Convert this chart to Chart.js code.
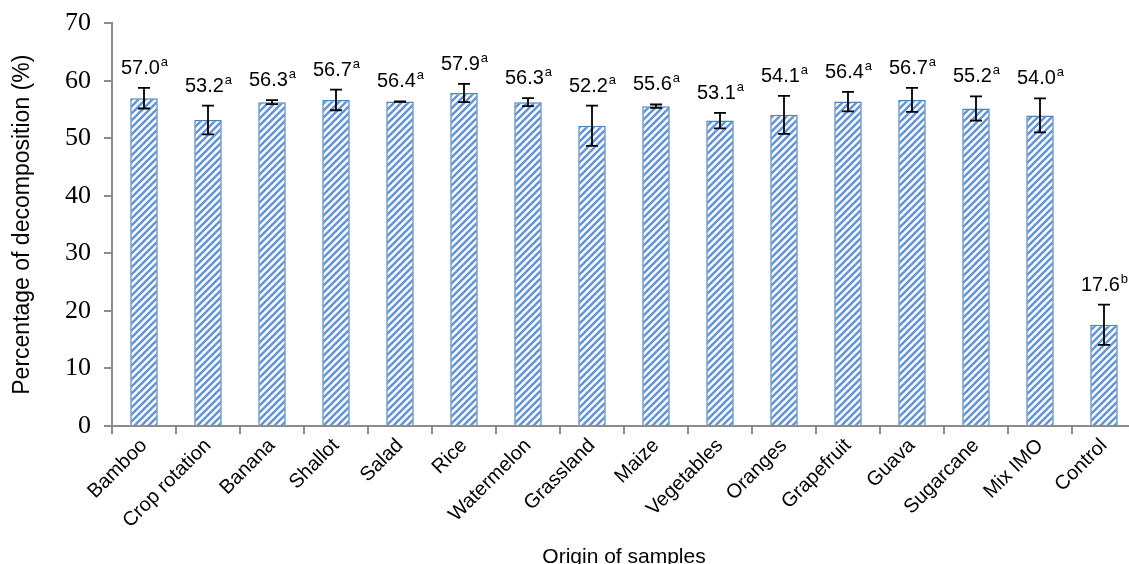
<!DOCTYPE html>
<html>
<head>
<meta charset="utf-8">
<script src="https://cdn.jsdelivr.net/npm/chart.js@4"></script>
<style>
  html, body { margin: 0; padding: 0; background: #fff; overflow: hidden; }
  #wrap { width: 1136px; height: 564px; }
</style>
</head>
<body>
<div id="wrap"><canvas id="decompChart" width="1136" height="564"></canvas></div>
<script>
const samples = ['Bamboo', 'Crop rotation', 'Banana', 'Shallot', 'Salad', 'Rice', 'Watermelon', 'Grassland',
    'Maize', 'Vegetables', 'Oranges', 'Grapefruit', 'Guava', 'Sugarcane', 'Mix IMO', 'Control'];
const decomposition = [57.0, 53.2, 56.3, 56.7, 56.4, 57.9, 56.3, 52.2, 55.6, 53.1, 54.1, 56.4, 56.7, 55.2, 54.0, 17.6];
const errors = [1.8, 2.5, 0.35, 1.8, 0.05, 1.6, 0.7, 3.5, 0.3, 1.35, 3.3, 1.7, 2.1, 2.1, 2.95, 3.5];
const letters = ['a', 'a', 'a', 'a', 'a', 'a', 'a', 'a', 'a', 'a', 'a', 'a', 'a', 'a', 'a', 'b'];
const yTicks = [0, 10, 20, 30, 40, 50, 60, 70];

const SANS = '"Liberation Sans", Arial, sans-serif';

function makeStripes() {
    const size = 7;
    const c = document.createElement('canvas');
    c.width = size;
    c.height = size;
    const g = c.getContext('2d');
    g.fillStyle = '#ffffff';
    g.fillRect(0, 0, size, size);
    g.strokeStyle = '#6496d6';
    g.lineWidth = 2.6;
    g.beginPath();
    g.moveTo(-1, size + 1); g.lineTo(size + 1, -1);
    g.moveTo(-1, 1); g.lineTo(1, -1);
    g.moveTo(size - 1, size + 1); g.lineTo(size + 1, size - 1);
    g.stroke();
    return g.createPattern(c, 'repeat');
}

// error bars and the value labels with their superscript letter
const errorBars = {
    id: 'errorBars',
    afterDatasetsDraw(chart) {
        const ctx = chart.ctx;
        const meta = chart.getDatasetMeta(0);
        const y = chart.scales.y;
        ctx.save();
        meta.data.forEach((bar, i) => {
            const top = y.getPixelForValue(decomposition[i] + errors[i]);
            const bottom = y.getPixelForValue(decomposition[i] - errors[i]);
            const x = bar.x;
            ctx.strokeStyle = '#000';
            ctx.lineWidth = 1.8;
            ctx.beginPath();
            ctx.moveTo(x, top); ctx.lineTo(x, bottom);
            ctx.moveTo(x - 6, top); ctx.lineTo(x + 6, top);
            ctx.moveTo(x - 6, bottom); ctx.lineTo(x + 6, bottom);
            ctx.stroke();

            const main = decomposition[i].toFixed(1);
            ctx.font = '20px ' + SANS;
            const w1 = ctx.measureText(main).width;
            ctx.font = '13px ' + SANS;
            const w2 = ctx.measureText(letters[i]).width;
            const start = x - (w1 + w2) / 2;
            const base = top - 14;
            ctx.fillStyle = '#000';
            ctx.textAlign = 'left';
            ctx.textBaseline = 'alphabetic';
            ctx.font = '20px ' + SANS;
            ctx.fillText(main, start, base);
            ctx.font = '13px ' + SANS;
            ctx.fillText(letters[i], start + w1 + 1, base - 8);
        });
        ctx.restore();
    }
};

const ctx = document.getElementById('decompChart').getContext('2d');
const chart = new Chart(ctx, {
    type: 'bar',
    data: {
        labels: samples,
        datasets: [{
            data: decomposition,
            backgroundColor: makeStripes(),
            borderColor: '#4f81bd',
            borderWidth: 1.5,
            barPercentage: 0.86,
            categoryPercentage: 0.5
        }]
    },
    options: {
        responsive: false,
        animation: false,
        layout: { padding: { top: 22, left: 0, right: 0, bottom: 0 } },
        plugins: {
            legend: { display: false },
            tooltip: { enabled: false }
        },
        scales: {
            x: {
                border: { color: '#8c8c8c', width: 2 },
                grid: { display: true, drawOnChartArea: false, color: '#8c8c8c', lineWidth: 2, tickLength: 8 },
                ticks: {
                    color: '#000',
                    autoSkip: false,
                    maxRotation: 45,
                    minRotation: 45,
                    padding: 0,
                    font: { family: SANS, size: 20 }
                },
                title: {
                    display: true,
                    text: 'Origin of samples',
                    color: '#000',
                    font: { family: SANS, size: 21, lineHeight: 0.6 },
                    padding: { top: 0, bottom: 0 }
                },
                afterFit(scale) { scale.height = 138; }
            },
            y: {
                min: 0,
                max: 70,
                afterBuildTicks(scale) { scale.ticks = yTicks.map(v => ({ value: v })); },
                border: { color: '#8c8c8c', width: 2 },
                grid: { display: true, drawOnChartArea: false, color: '#8c8c8c', lineWidth: 2, tickLength: 8 },
                ticks: {
                    color: '#000',
                    padding: 13,
                    font: { family: '"Liberation Serif", "Times New Roman", serif', size: 26, lineHeight: 0.8 }
                },
                title: {
                    display: true,
                    text: 'Percentage of decomposition (%)',
                    color: '#000',
                    font: { family: SANS, size: 23 },
                    padding: { top: 9, bottom: 0 }
                },
                afterFit(scale) { scale.width = 112; }
            }
        }
    },
    plugins: [errorBars]
});
</script>
</body>
</html>
